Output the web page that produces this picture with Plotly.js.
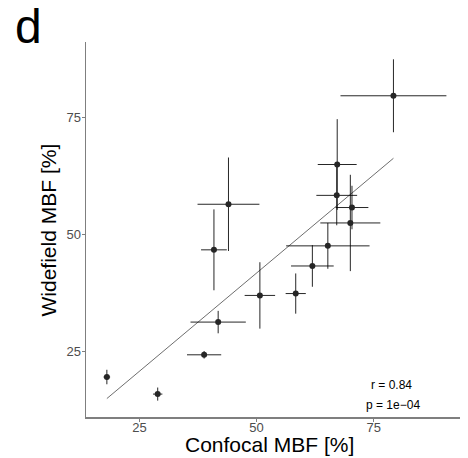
<!DOCTYPE html>
<html>
<head>
<meta charset="utf-8">
<script src="https://cdn.plot.ly/plotly-3.0.1.min.js"></script>
<style>html,body{margin:0;padding:0;background:#fff;}#chart{width:468px;height:458px;}</style>
</head>
<body>
<div id="chart"></div>
<script>
// Confocal MBF (x) and Widefield MBF (y), with error half-widths
const confocal = [79.2, 67.2, 67.1, 70.35, 70.0, 65.2, 61.9, 58.35, 50.7, 41.8, 38.8, 40.9, 44.0, 18.05, 28.9];
const widefield = [79.7, 65.0, 58.4, 55.8, 52.5, 47.6, 43.3, 37.4, 37.0, 31.3, 24.3, 46.75, 56.5, 19.55, 15.9];
const confocalErr = [11.3, 4.15, 4.35, 3.5, 6.4, 8.9, 4.55, 2.15, 3.25, 5.9, 3.65, 2.75, 6.6, 0.7, 1.0];
const widefieldErr = [7.8, 9.7, 6.4, 4.65, 10.3, 4.9, 4.45, 4.3, 7.1, 2.4, 0.8, 8.65, 10.0, 1.55, 1.4];
const xTicks = [25, 50, 75];
const yTicks = [25, 50, 75];
const statsLines = ["r = 0.84", "p = 1e\u221204"];

// least-squares fit line across the data range
const n = confocal.length;
const mx = confocal.reduce((a,b)=>a+b,0)/n;
const my = widefield.reduce((a,b)=>a+b,0)/n;
let sxy = 0, sxx = 0;
for (let i=0;i<n;i++){ sxy += (confocal[i]-mx)*(widefield[i]-my); sxx += (confocal[i]-mx)**2; }
const slope = sxy/sxx, icpt = my - slope*mx;
const xmin = Math.min(...confocal), xmax = Math.max(...confocal);

const font = "Liberation Sans, Arial, Helvetica, sans-serif";
const traces = [
  {x:[xmin,xmax], y:[icpt+slope*xmin, icpt+slope*xmax], mode:'lines', type:'scatter',
   line:{color:'#6e6e6e', width:1}, hoverinfo:'skip', showlegend:false},
  {x:confocal, y:widefield, mode:'markers', type:'scatter', showlegend:false,
   marker:{color:'#262626', size:6},
   error_x:{type:'data', array:confocalErr, visible:true, color:'rgba(0,0,0,0.85)', thickness:1, width:0},
   error_y:{type:'data', array:widefieldErr, visible:true, color:'rgba(0,0,0,0.85)', thickness:1, width:0}}
];
const layout = {
  width:468, height:458,
  margin:{l:86, r:8, t:42, b:41, pad:0},
  paper_bgcolor:'#fff', plot_bgcolor:'#fff',
  font:{family:font, color:'#000'},
  xaxis:{range:[13.6, 93.4], tickvals:xTicks, ticktext:xTicks.map(String), showgrid:false, zeroline:false,
    showline:true, linecolor:'#7f7f7f', linewidth:1.5, ticks:'outside', ticklen:3, tickcolor:'#7f7f7f', tickwidth:1,
    ticklabelstandoff:-5,
    tickfont:{size:13, color:'#4d4d4d', family:font},
    title:{text:'', font:{size:21, color:'#000', family:font}}},
  yaxis:{range:[11, 91.2], tickvals:yTicks, ticktext:yTicks.map(String), showgrid:false, zeroline:false,
    showline:true, linecolor:'#7f7f7f', linewidth:1.5, ticks:'outside', ticklen:3, tickcolor:'#7f7f7f', tickwidth:1,
    ticklabelstandoff:-2,
    tickfont:{size:13, color:'#4d4d4d', family:font},
    title:{text:'', font:{size:21, color:'#000', family:font}}},
  annotations:[
    {text:'d', xref:'paper', yref:'paper', x:-0.195, y:1.042, xanchor:'left', yanchor:'middle', showarrow:false,
     font:{size:48, color:'#000', family:font}},
    {text:'Confocal MBF [%]', xref:'paper', yref:'paper', x:0.49, y:-0.073, xanchor:'center', yanchor:'middle', showarrow:false,
     font:{size:21, color:'#000', family:font}},
    {text:'Widefield MBF [%]', xref:'paper', yref:'paper', x:-0.099, y:0.5, xanchor:'center', yanchor:'middle', textangle:-90, showarrow:false,
     font:{size:21, color:'#000', family:font}},
    {text:statsLines[0], xref:'paper', yref:'paper', x:0.818, y:0.085, xanchor:'center', yanchor:'middle', showarrow:false,
     font:{size:12, color:'#000', family:font}},
    {text:statsLines[1], xref:'paper', yref:'paper', x:0.822, y:0.032, xanchor:'center', yanchor:'middle', showarrow:false,
     font:{size:12, color:'#000', family:font}}
  ]
};
Plotly.newPlot('chart', traces, layout, {displayModeBar:false, staticPlot:true});
</script>
</body>
</html>
